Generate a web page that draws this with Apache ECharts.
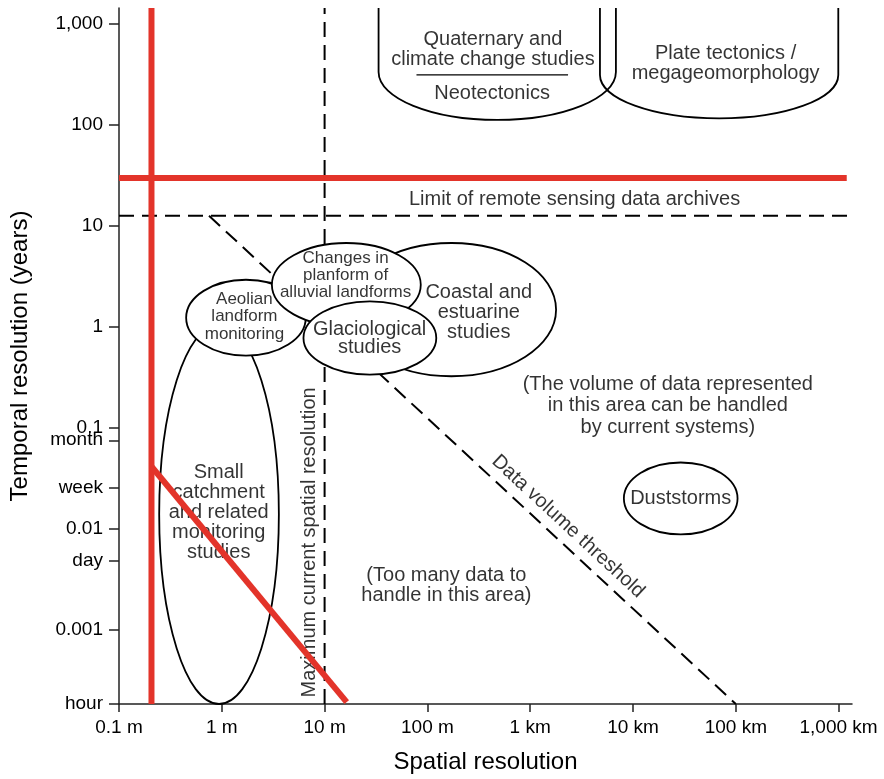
<!DOCTYPE html>
<html>
<head>
<meta charset="utf-8">
<title>Spatial and temporal resolution</title>
<script src="https://cdn.jsdelivr.net/npm/echarts@6/dist/echarts.min.js"></script>
<style>
  html, body { margin: 0; padding: 0; background: #fff; }
  #main { width: 884px; height: 779px; }
</style>
</head>
<body>
<div id="main"></div>
<script>
// axis ranges: metres on x, years on y
const xMin = 0.1, xMax = 1.35e6;
const yMin = 1.85e-4, yMax = 1420;

const xTickValues = [0.1, 1, 10, 100, 1e3, 1e4, 1e5, 1e6];
const xTickLabels = ['0.1 m', '1 m', '10 m', '100 m', '1 km', '10 km', '100 km', '1,000 km'];
const yTickValues = [1.85e-4, 0.001, 0.0048, 0.01, 0.0256, 0.0752, 0.1, 1, 10, 100, 1000];
const yTickLabels = ['hour', '0.001', 'day', '0.01', 'week', 'month', '0.1', '1', '10', '100', '1,000'];

// red limits
const redVertical = [[0.207, yMin], [0.207, yMax]];
const redHorizontal = [[0.1, 29.5], [1.2e6, 29.5]];
const redDiagonal = [[0.207, 0.0414], [16.4, 1.93e-4]];

// dashed limits
const archiveLimit = [[0.1, 12.5], [xMax, 12.5]];
const resolutionLimit = [[10, yMin], [10, yMax]];
const volumeThreshold = [[0.751, 12.5], [1e5, yMin]];

// ovals (drawn bottom to top): x range in m, y range in years
const ovalNames = ['Small catchment', 'Coastal', 'Aeolian', 'Changes in planform', 'Glaciological', 'Duststorms'];
const ovalX = [[0.246, 3.59], [16.4, 1785], [0.45, 6.56], [3.07, 86.2], [6.23, 122], [8150, 104000]];
const ovalY = [[1.047, 1.85e-4], [6.72, 0.323], [2.91, 0.517], [6.72, 1.0], [1.78, 0.3355], [0.0453, 0.00881]];

// open-topped shapes at the top: side x (m), shoulder and bottom y (years)
const basinNames = ['Quaternary / Neotectonics', 'Plate tectonics'];
const basinX = [[33.5, 6820], [4770, 993000]];
const basinY = [[331, 111], [309, 115]];
const dividerLine = [[78.3, 309], [2335, 309]];

// text notes and their anchors
const notes = [
    'Quaternary and\nclimate change studies',
    'Neotectonics',
    'Plate tectonics /\nmegageomorphology',
    'Limit of remote sensing data archives',
    'Changes in\nplanform of\nalluvial landforms',
    'Aeolian\nlandform\nmonitoring',
    'Glaciological\nstudies',
    'Coastal and\nestuarine\nstudies',
    '(The volume of data represented\nin this area can be handled\nby current systems)',
    'Small\ncatchment\nand related\nmonitoring\nstudies',
    'Duststorms',
    '(Too many data to\nhandle in this area)',
    'Data volume threshold',
    'Maximum current spatial resolution',
];
const noteX = [434, 426, 79600, 2700, 16.0, 1.66, 27.4, 316, 21800, 0.933, 29100, 153, 2335, 7.18];
const noteY = [546, 204, 403, 18.0, 3.23, 1.256, 0.761, 1.366, 0.166, 0.0144, 0.02, 0.00276, 0.01056, 0.00734];

const font = '"Liberation Sans", Arial, Helvetica, sans-serif';
const ink = '#000';
const red = '#e3342a';

function nearestLabel(v, values, labels) {
    let best = 0;
    values.forEach((t, i) => {
        const d = Math.abs(Math.log10(t) - Math.log10(v));
        if (d < Math.abs(Math.log10(values[best]) - Math.log10(v))) best = i;
    });
    return labels[best];
}

// per-note text styling
const noteStyle = {
    4: { fontSize: 17, lineHeight: 17 },
    5: { fontSize: 17, lineHeight: 17.5 },
    6: { lineHeight: 18.5 },
    8: { lineHeight: 21.5 },
    12: { rotate: -42.8 },
    13: { rotate: 90 },
};

function renderOval(params, api) {
    const p1 = api.coord([api.value(0), api.value(2)]);
    const p2 = api.coord([api.value(1), api.value(3)]);
    return {
        type: 'ellipse',
        shape: {
            cx: (p1[0] + p2[0]) / 2,
            cy: (p1[1] + p2[1]) / 2,
            rx: Math.abs(p2[0] - p1[0]) / 2,
            ry: Math.abs(p2[1] - p1[1]) / 2,
        },
        style: { fill: '#fff', stroke: ink, lineWidth: 1.8 },
    };
}

function renderBasin(params, api) {
    const top = api.coord([api.value(0), yMax])[1];
    const s1 = api.coord([api.value(0), api.value(2)]);
    const s2 = api.coord([api.value(1), api.value(2)]);
    const b = api.coord([api.value(0), api.value(3)])[1];
    const cx = (s1[0] + s2[0]) / 2;
    const rx = (s2[0] - s1[0]) / 2;
    const ry = b - s1[1];
    const k = 0.5523;
    const d = 'M' + s1[0] + ' ' + top + ' L' + s1[0] + ' ' + s1[1] +
        ' C' + s1[0] + ' ' + (s1[1] + k * ry) + ' ' + (cx - k * rx) + ' ' + b + ' ' + cx + ' ' + b +
        ' C' + (cx + k * rx) + ' ' + b + ' ' + s2[0] + ' ' + (s1[1] + k * ry) + ' ' + s2[0] + ' ' + s1[1] +
        ' L' + s2[0] + ' ' + top;
    return {
        type: 'path',
        shape: { pathData: d },
        style: { fill: 'none', stroke: ink, lineWidth: 1.8 },
    };
}

function lineSeries(data, color, width, dashed, z) {
    return {
        type: 'line',
        data: data,
        symbol: 'none',
        silent: true,
        z: z,
        lineStyle: { color: color, width: width, type: dashed ? [15, 8] : 'solid', cap: 'butt' },
    };
}

const chart = echarts.init(document.getElementById('main'));

const option = {
    animation: false,
    backgroundColor: '#fff',
    grid: { left: 117, right: 32, top: 8, bottom: 74 },
    xAxis: {
        type: 'log',
        logBase: 10,
        min: xMin,
        max: xMax,
        name: 'Spatial resolution',
        nameLocation: 'middle',
        nameGap: 46,
        nameTextStyle: { fontSize: 24, color: ink, fontFamily: font },
        axisLine: { lineStyle: { color: '#222', width: 1.5 } },
        axisTick: { customValues: xTickValues, length: 8, lineStyle: { color: '#222', width: 1.5 } },
        axisLabel: {
            customValues: xTickValues,
            formatter: (v) => nearestLabel(v, xTickValues, xTickLabels),
            fontSize: 19, color: ink, fontFamily: font, margin: 14,
        },
        splitLine: { show: false },
    },
    yAxis: {
        type: 'log',
        logBase: 10,
        min: yMin,
        max: yMax,
        name: 'Temporal resolution (years)',
        nameLocation: 'middle',
        nameGap: 87,
        nameTextStyle: { fontSize: 24, color: ink, fontFamily: font },
        axisLine: { lineStyle: { color: '#222', width: 1.5 } },
        axisTick: { customValues: yTickValues, length: 10, lineStyle: { color: '#222', width: 1.5 } },
        axisLabel: {
            customValues: yTickValues,
            formatter: (v) => nearestLabel(v, yTickValues, yTickLabels),
            fontSize: 19, color: ink, fontFamily: font, margin: 16,
        },
        splitLine: { show: false },
    },
    series: [
        lineSeries(archiveLimit, ink, 2, true, 1),
        lineSeries(resolutionLimit, ink, 2, true, 1),
        lineSeries(volumeThreshold, ink, 2, true, 1),
        {
            type: 'custom',
            name: 'basins',
            silent: true,
            z: 2,
            renderItem: renderBasin,
            encode: { x: [0, 1], y: [2, 3] },
            data: basinX.map((x, i) => [x[0], x[1], basinY[i][0], basinY[i][1]]),
        },
        lineSeries(dividerLine, ink, 1.3, false, 2),
        {
            type: 'custom',
            name: 'ovals',
            silent: true,
            z: 2,
            renderItem: renderOval,
            encode: { x: [0, 1], y: [2, 3] },
            data: ovalNames.map((n, i) => ({ name: n, value: [ovalX[i][0], ovalX[i][1], ovalY[i][0], ovalY[i][1]] })),
        },
        {
            type: 'scatter',
            name: 'notes',
            silent: true,
            z: 3,
            symbolSize: 0,
            label: {
                show: true,
                position: 'inside',
                formatter: '{b}',
                fontSize: 20,
                lineHeight: 20,
                color: ink,
                fontFamily: font,
                align: 'center',
                verticalAlign: 'middle',
            },
            data: notes.map((t, i) => ({
                name: t,
                value: [noteX[i], noteY[i]],
                label: noteStyle[i] || {},
            })),
        },
        lineSeries(redVertical, red, 6, false, 4),
        lineSeries(redHorizontal, red, 6, false, 4),
        lineSeries(redDiagonal, red, 6, false, 4),
    ],
};

chart.setOption(option);
</script>
</body>
</html>
